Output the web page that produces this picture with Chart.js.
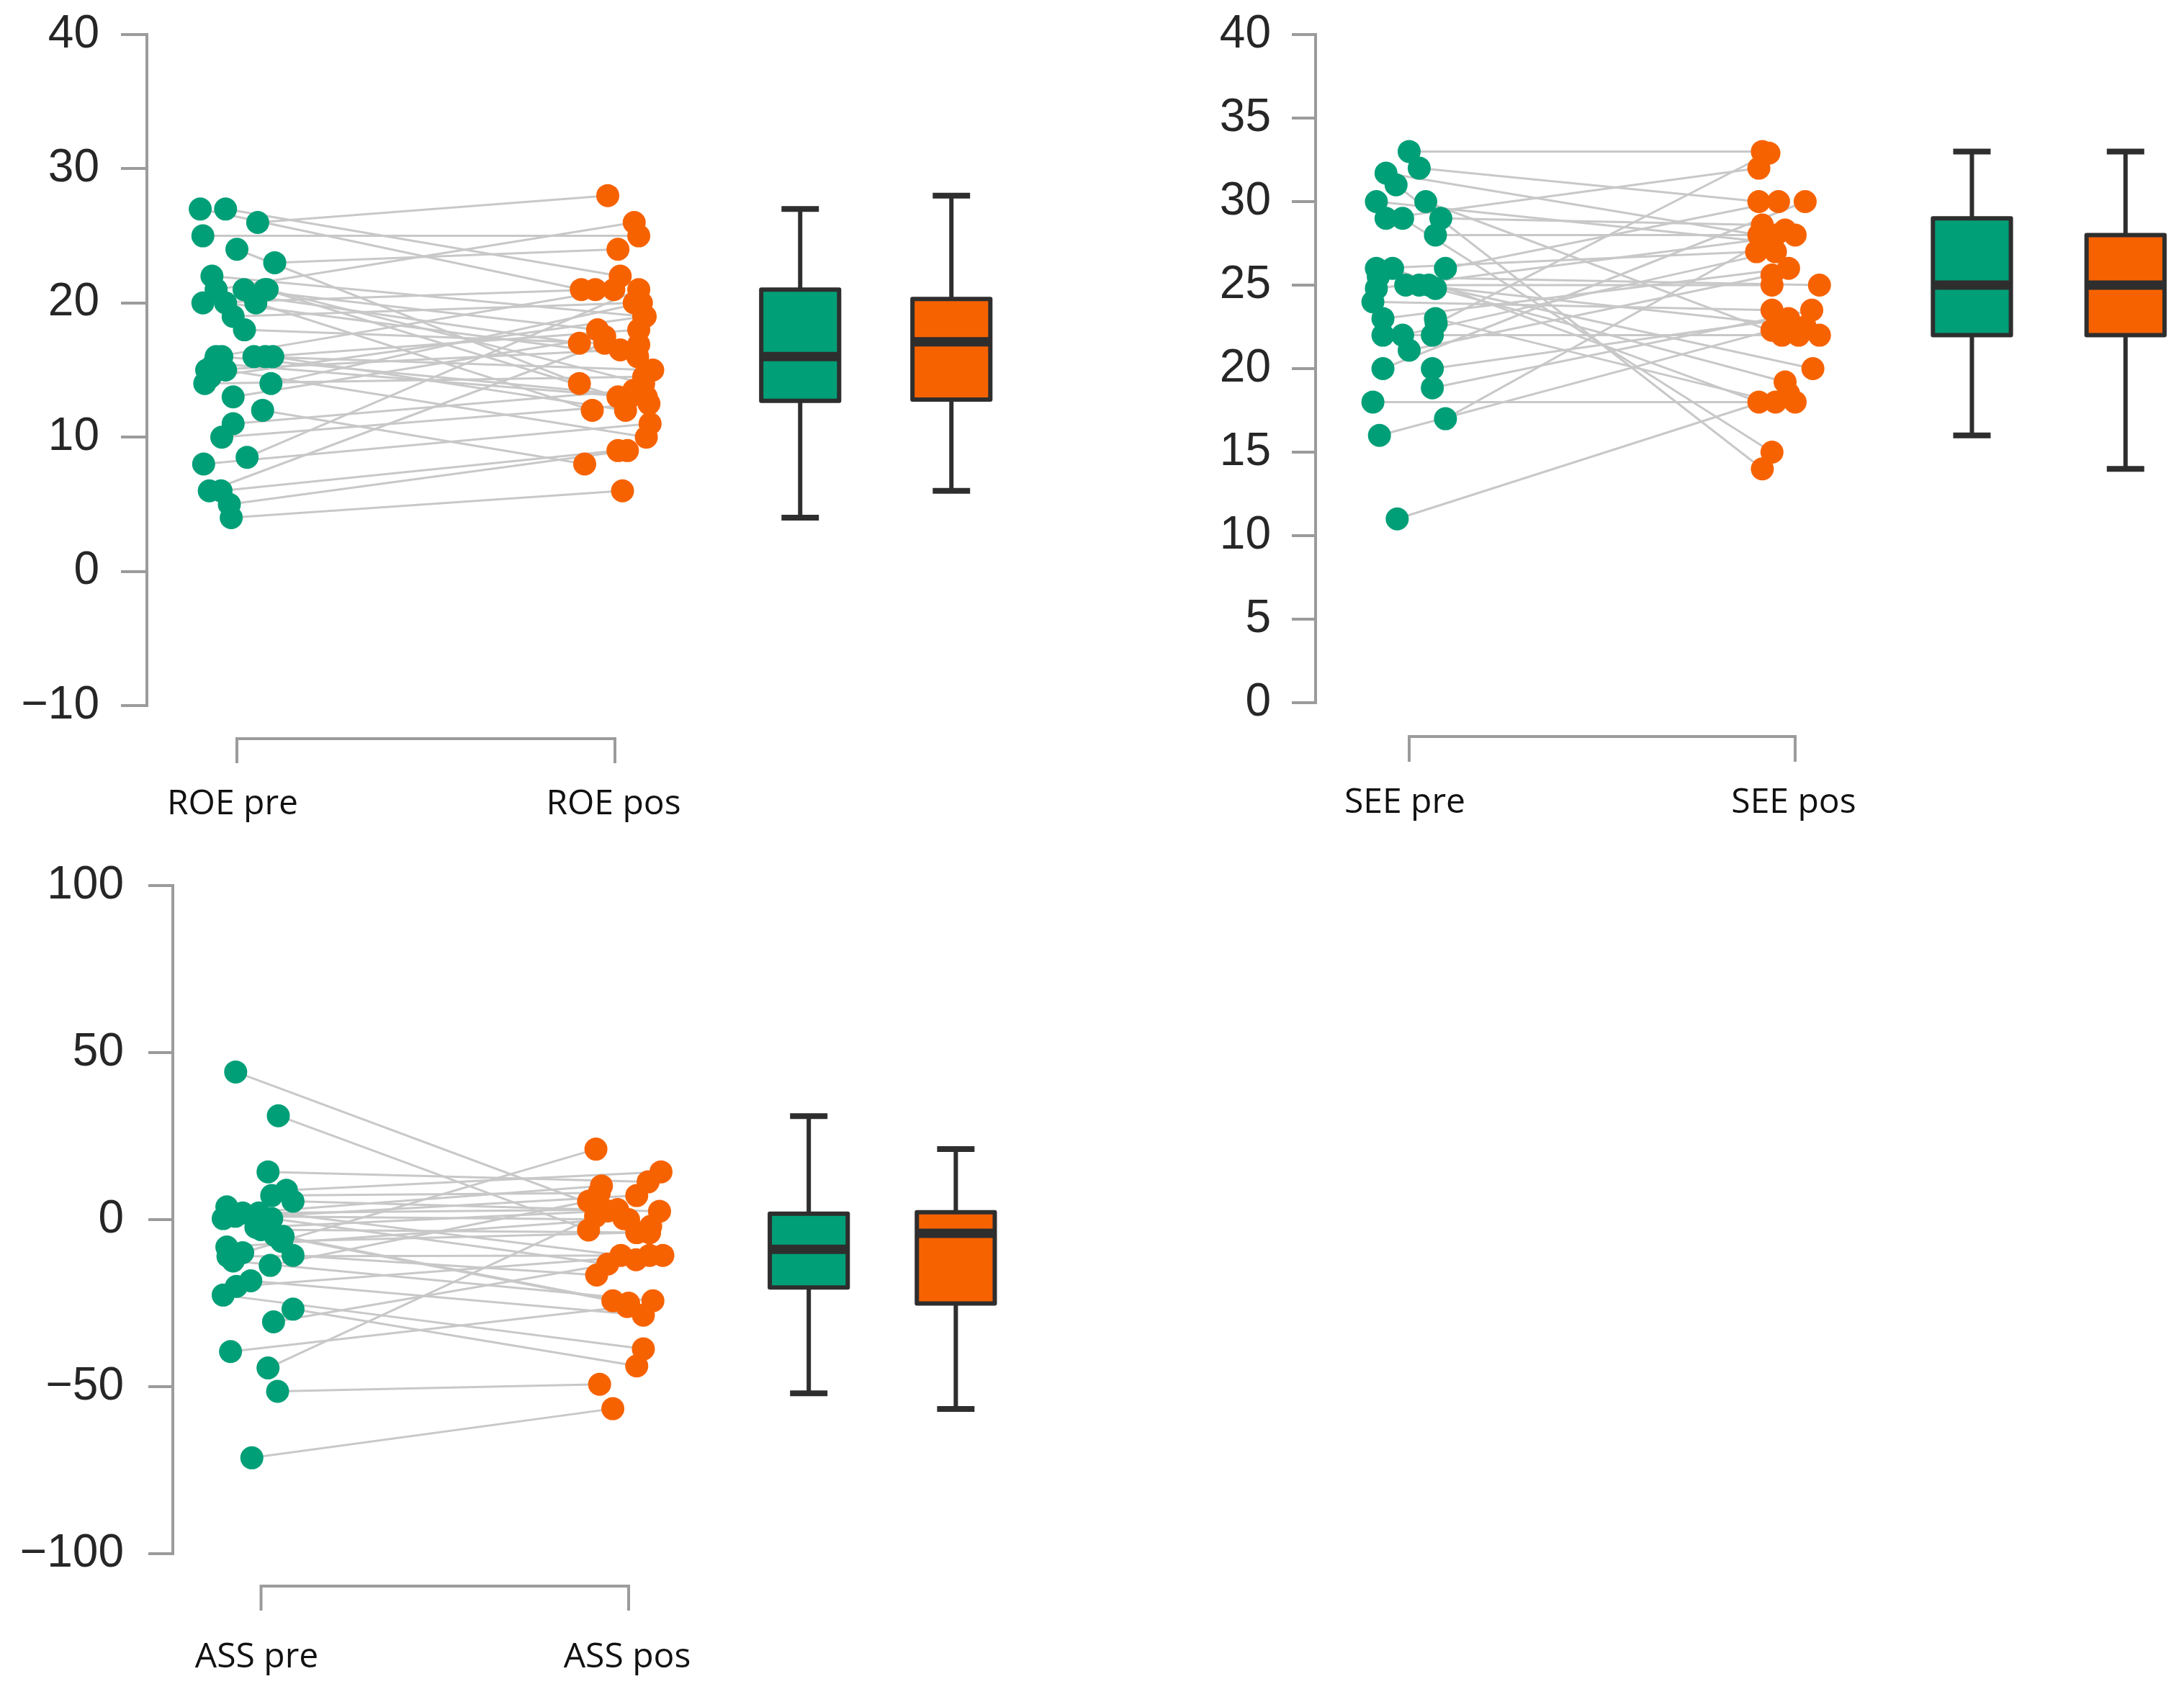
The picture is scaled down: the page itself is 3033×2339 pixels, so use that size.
<!DOCTYPE html>
<html>
<head>
<meta charset="utf-8">
<script src="https://cdn.jsdelivr.net/npm/chart.js@4.4.1/dist/chart.umd.min.js"></script>
<style>
  body { margin: 0; background: #fff; width: 3033px; height: 2339px; position: relative; overflow: hidden; }
  canvas { position: absolute; }
</style>
</head>
<body>
<canvas id="roeChart" width="1500" height="1160" style="left:0;top:0"></canvas>
<canvas id="seeChart" width="1433" height="1160" style="left:1600px;top:0"></canvas>
<canvas id="assChart" width="1500" height="1169" style="left:0;top:1170px"></canvas>
<script>
// --- data ---
const roeLabels = ["ROE pre", "ROE pos"];
const roePre = [27, 27, 26, 25, 24, 23, 22, 21, 21, 21, 20.5, 20, 20, 19, 18, 16, 16, 16, 16, 16, 15, 15, 14, 14, 13, 12, 11, 10, 8.5, 8, 6, 6, 5, 4, 15.5, 14.5, 20, 21];
const roePos = [21, 22, 28, 25, 14, 24, 19, 26, 18, 13, 17, 21, 12, 20, 16.9, 21, 13, 15, 18, 12, 16.5, 10, 14.5, 20, 17.5, 8, 13.5, 12.5, 21, 11, 17, 9, 9, 6, 13, 19, 16, 14];
const roePreJitter = [-0.097, -0.03, 0.055, -0.09, 0, 0.1, -0.066, -0.055, 0.019, 0.074, 0.045, -0.09, 0.05, -0.01, 0.02, -0.055, -0.04, 0.045, 0.075, 0.095, -0.08, -0.03, -0.085, 0.09, -0.01, 0.068, -0.01, -0.04, 0.027, -0.088, -0.073, -0.042, -0.02, -0.015, -0.06, -0.07, -0.03, 0.08];
const roePosJitter = [-0.089, 0.014, -0.019, 0.063, -0.094, 0.008, 0.076, 0.051, -0.046, 0.008, -0.094, -0.052, -0.06, 0.051, 0.063, -0.003, 0.083, 0.1, 0.063, 0.028, 0.014, 0.083, 0.076, 0.07, -0.027, -0.08, 0.05, 0.09, 0.063, 0.093, -0.027, 0.008, 0.033, 0.02, 0.04, 0.08, 0.06, 0.076];
const roeBoxPre = [4, 12.7, 16, 21, 27];     // min, q1, median, q3, max
const roeBoxPos = [6, 12.8, 17.1, 20.3, 28];
const roeTicks = { min: -10, max: 40, step: 10 };

const seeLabels = ["SEE pre", "SEE pos"];
const seePre = [33, 32, 31.7, 31, 30, 30, 29, 29, 29, 28, 26, 26, 26, 25, 25, 25, 24.8, 24.8, 24, 23, 23, 22, 22, 22, 21.1, 20, 20, 18.85, 18, 17, 16, 11, 25.5, 22.7];
const seePos = [33, 30, 28, 14, 27.6, 22, 32, 15, 28.6, 28, 27, 18, 30, 25, 22.5, 20, 28, 19.2, 23.5, 26, 18, 22, 27, 22, 25.6, 30, 23, 23.5, 18, 28.3, 22.3, 18.5, 25, 32.9];
const seePreJitter = [0, 0.026, -0.06, -0.034, -0.085, 0.043, -0.06, -0.017, 0.082, 0.068, -0.085, -0.043, 0.094, -0.009, 0.026, 0.051, -0.085, 0.068, -0.094, -0.068, 0.068, -0.068, -0.017, 0.06, 0, -0.068, 0.06, 0.06, -0.094, 0.094, -0.077, -0.031, -0.08, 0.07];
const seePosJitter = [-0.085, -0.094, -0.094, -0.085, -0.077, -0.034, -0.094, -0.06, -0.085, -0.051, -0.1, -0.094, -0.043, -0.06, 0.026, 0.046, 0, -0.026, -0.06, -0.017, -0.051, 0.063, -0.051, 0.009, -0.06, 0.026, -0.017, 0.043, 0, -0.026, -0.06, -0.017, 0.063, -0.068];
const seeBoxPre = [16, 22, 25, 29, 33];
const seeBoxPos = [14, 22, 25, 28, 33];
const seeTicks = { min: 0, max: 40, step: 5 };

const assLabels = ["ASS pre", "ASS pos"];
const assPre = [44.2, 31.1, 14.3, 8.8, 7.2, 5.5, 3.8, 2, 2, 0.3, 0.3, -2.3, -4.8, -6.5, -8.2, -9.9, -10.7, -12.4, -13.7, -18.3, -20, -22.6, -26.8, -30.6, -39.5, -44.4, -51.4, -71.3, 1, -3, -11, -5];
const assPos = [-2, -3.1, 11.3, 14.3, 8, 2.5, -10.7, 10.1, 3, 7.2, -13.3, 2.6, -24.3, -3.9, 0.3, 21.1, -16.6, -24.3, 5.5, -28.6, -10.7, -38.7, -43.8, -12, -26, 1, -49.3, -56.6, 0, -3.9, -10.7, -25];
const assPreJitter = [-0.069, 0.047, 0.019, 0.069, 0.029, 0.087, -0.093, -0.05, -0.006, -0.103, 0.029, -0.014, 0.038, 0.056, -0.093, -0.05, 0.087, -0.076, 0.025, -0.028, -0.067, -0.103, 0.087, 0.034, -0.083, 0.019, 0.045, -0.025, -0.07, 0, -0.09, 0.06];
const assPosJitter = [0.06, -0.109, 0.053, 0.088, -0.08, 0.084, -0.021, -0.074, -0.03, 0.022, -0.057, -0.057, -0.043, 0.022, -0.013, -0.089, -0.087, 0.066, -0.109, 0.04, 0.057, 0.04, 0.022, 0.02, -0.004, -0.09, -0.079, -0.043, 0, 0.057, 0.093, 0];
const assBoxPre = [-52, -20.3, -8.9, 1.8, 31];
const assBoxPos = [-56.7, -25.1, -4.1, 2.2, 21.1];
const assTicks = { min: -100, max: 100, step: 50 };

const GREEN = "#009f77";
const ORANGE = "#f76200";
const DARK = "#2e2e2e";
const AXIS = "#9b9b9b";
const LINK = "#c8c8c8";

// boxes, whiskers and the x bracket, drawn through the chart scales
const boxAndBracket = {
  id: "boxAndBracket",
  afterDatasetsDraw(chart, args, opts) {
    const { ctx, chartArea } = chart;
    const x = chart.scales.x;
    const y = chart.scales.y;

    opts.boxes.forEach((b) => {
      const cx = x.getPixelForValue(b.pos);
      const half = x.getPixelForValue(b.pos + opts.boxHalf) - cx;
      const cap = x.getPixelForValue(b.pos + opts.boxHalf * 0.48) - cx;
      const [lo, q1, med, q3, hi] = b.stats.map((v) => y.getPixelForValue(v));
      ctx.save();
      ctx.strokeStyle = DARK;
      ctx.lineWidth = 6;
      ctx.beginPath();
      ctx.moveTo(cx, hi); ctx.lineTo(cx, q3);
      ctx.moveTo(cx, q1); ctx.lineTo(cx, lo);
      ctx.stroke();
      ctx.lineWidth = 8;
      ctx.beginPath();
      ctx.moveTo(cx - cap, hi); ctx.lineTo(cx + cap, hi);
      ctx.moveTo(cx - cap, lo); ctx.lineTo(cx + cap, lo);
      ctx.stroke();
      ctx.fillStyle = b.color;
      ctx.fillRect(cx - half, q3, 2 * half, q1 - q3);
      ctx.lineWidth = 6;
      ctx.lineJoin = "round";
      ctx.strokeRect(cx - half, q3, 2 * half, q1 - q3);
      ctx.lineWidth = 13;
      ctx.beginPath();
      ctx.moveTo(cx - half, med); ctx.lineTo(cx + half, med);
      ctx.stroke();
      ctx.restore();
    });

    const by = chartArea.bottom + opts.gap;
    const x1 = x.getPixelForValue(1);
    const x2 = x.getPixelForValue(2);
    ctx.save();
    ctx.strokeStyle = AXIS;
    ctx.lineWidth = 4;
    ctx.beginPath();
    ctx.moveTo(x1, by + opts.tick);
    ctx.lineTo(x1, by);
    ctx.lineTo(x2, by);
    ctx.lineTo(x2, by + opts.tick);
    ctx.stroke();
    ctx.fillStyle = "#111";
    ctx.font = '48px "Open Sans"';
    ctx.textAlign = "center";
    ctx.textBaseline = "middle";
    ctx.fillText(opts.labels[0], x1 - 6, chartArea.bottom + opts.labelOffset);
    ctx.fillText(opts.labels[1], x2 - 2, chartArea.bottom + opts.labelOffset);
    ctx.restore();
  }
};

function buildDatasets(pre, pos, preJit, posJit) {
  const links = pre.map((v, i) => ({
    type: "line",
    data: [{ x: 1 + preJit[i], y: v }, { x: 2 + posJit[i], y: pos[i] }],
    borderColor: LINK,
    borderWidth: 3,
    pointRadius: 0,
    showLine: true,
    order: 2
  }));
  const prePts = {
    data: pre.map((v, i) => ({ x: 1 + preJit[i], y: v })),
    backgroundColor: GREEN,
    pointRadius: 16,
    pointBorderWidth: 0,
    order: 1
  };
  const posPts = {
    data: pos.map((v, i) => ({ x: 2 + posJit[i], y: v })),
    backgroundColor: ORANGE,
    pointRadius: 16,
    pointBorderWidth: 0,
    order: 1
  };
  return links.concat([prePts, posPts]);
}

function makeChart(id, cfg) {
  return new Chart(document.getElementById(id), {
    type: "scatter",
    data: { datasets: buildDatasets(cfg.pre, cfg.pos, cfg.preJit, cfg.posJit) },
    options: {
      responsive: false,
      animation: false,
      devicePixelRatio: 1,
      events: [],
      layout: { padding: cfg.padding, autoPadding: false },
      plugins: {
        legend: { display: false },
        tooltip: { enabled: false },
        boxAndBracket: {
          boxes: [
            { pos: cfg.boxAt[0], stats: cfg.boxPre, color: GREEN },
            { pos: cfg.boxAt[1], stats: cfg.boxPost, color: ORANGE }
          ],
          boxHalf: cfg.boxHalf,
          labels: cfg.labels,
          gap: cfg.gap,
          tick: cfg.tick,
          labelOffset: cfg.labelOffset
        }
      },
      scales: {
        x: { type: "linear", display: false, min: cfg.xMin, max: cfg.xMax },
        y: {
          min: cfg.ticks.min,
          max: cfg.ticks.max,
          afterFit(scale) {
            scale.width = cfg.axisWidth;
            scale.paddingTop = 0;
            scale.paddingBottom = 0;
          },
          ticks: {
            stepSize: cfg.ticks.step,
            padding: cfg.labelPad,
            color: "#262626",
            font: { family: '"Liberation Sans", Arial', size: 64 },
            callback: (v) => (v < 0 ? "\u2212" + Math.abs(v) : String(v))
          },
          grid: { drawOnChartArea: false, drawTicks: true, tickLength: cfg.tickLength, color: AXIS, lineWidth: 4 },
          border: { display: true, color: AXIS, width: 4 }
        }
      }
    },
    plugins: [boxAndBracket]
  });
}

makeChart("roeChart", {
  pre: roePre, pos: roePos, preJit: roePreJitter, posJit: roePosJitter,
  boxPre: roeBoxPre, boxPost: roeBoxPos, boxAt: [2.49, 2.89], boxHalf: 0.103,
  labels: roeLabels, ticks: roeTicks,
  xMin: 0.7619, xMax: 3.1924,
  axisWidth: 204, tickLength: 36, labelPad: 30,
  padding: { left: 0, top: 48, right: 20, bottom: 180 },
  gap: 46, tick: 34, labelOffset: 137
});

makeChart("seeChart", {
  pre: seePre, pos: seePos, preJit: seePreJitter, posJit: seePosJitter,
  boxPre: seeBoxPre, boxPost: seeBoxPos, boxAt: [2.458, 2.856], boxHalf: 0.101,
  labels: seeLabels, ticks: seeTicks,
  xMin: 0.7575, xMax: 3.0075,
  axisWidth: 227, tickLength: 33, labelPad: 29,
  padding: { left: 0, top: 48, right: 0, bottom: 184 },
  gap: 47, tick: 35, labelOffset: 139
});

makeChart("assChart", {
  pre: assPre, pos: assPos, preJit: assPreJitter, posJit: assPosJitter,
  boxPre: assBoxPre, boxPost: assBoxPos, boxAt: [2.49, 2.89], boxHalf: 0.106,
  labels: assLabels, ticks: assTicks,
  xMin: 0.76, xMax: 3.189,
  axisWidth: 240, tickLength: 34, labelPad: 34,
  padding: { left: 0, top: 60, right: 20, bottom: 181 },
  gap: 45, tick: 34, labelOffset: 144
});
</script>
</body>
</html>
